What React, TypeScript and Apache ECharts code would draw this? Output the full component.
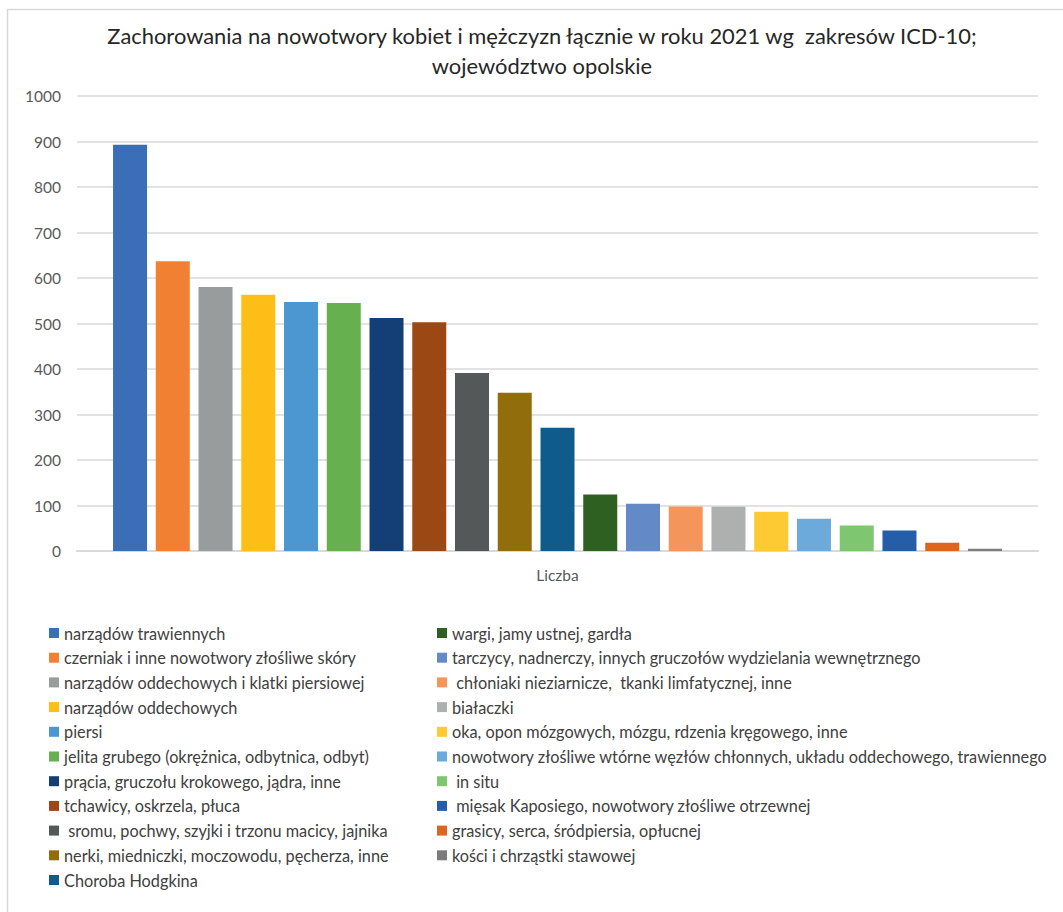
import React, { useEffect, useRef } from "react";
import * as echarts from "echarts";

const titleText =
  "Zachorowania na nowotwory kobiet i mężczyzn łącznie w roku 2021 wg  zakresów ICD-10;\nwojewództwo opolskie";

const categories = ["Liczba"];

const seriesNames = [
  "narządów trawiennych",
  "czerniak i inne nowotwory złośliwe skóry",
  "narządów oddechowych i klatki piersiowej",
  "narządów oddechowych",
  "piersi",
  "jelita grubego (okrężnica, odbytnica, odbyt)",
  "prącia, gruczołu krokowego, jądra, inne",
  "tchawicy, oskrzela, płuca",
  " sromu, pochwy, szyjki i trzonu macicy, jajnika",
  "nerki, miedniczki, moczowodu, pęcherza, inne",
  "Choroba Hodgkina",
  "wargi, jamy ustnej, gardła",
  "tarczycy, nadnerczy, innych gruczołów wydzielania wewnętrznego",
  " chłoniaki nieziarnicze,  tkanki limfatycznej, inne",
  "białaczki",
  "oka, opon mózgowych, mózgu, rdzenia kręgowego, inne",
  "nowotwory złośliwe wtórne węzłów chłonnych, układu oddechowego, trawiennego",
  " in situ",
  " mięsak Kaposiego, nowotwory złośliwe otrzewnej",
  "grasicy, serca, śródpiersia, opłucnej",
  "kości i chrząstki stawowej",
];

const seriesValues = [
  893, 637, 580, 563, 547, 545, 512, 503, 391, 348, 271, 124, 104, 98, 97, 86,
  71, 56, 45, 18, 5,
];

const seriesColors = [
  "#3A6FB8",
  "#F28033",
  "#999C9C",
  "#FCBE17",
  "#4C97D1",
  "#66B04F",
  "#133F76",
  "#9C4814",
  "#545859",
  "#926D0C",
  "#0F5B8C",
  "#2E6121",
  "#6389C6",
  "#F4965A",
  "#AEAFAF",
  "#FECA33",
  "#6BAADA",
  "#7EC66F",
  "#245DA8",
  "#DB6621",
  "#7C7C7C",
];

const yMin = 0;
const yMax = 1000;
const yInterval = 100;

const FONT = "Lato, 'Liberation Sans', sans-serif";

export default function App() {
  const ref = useRef<HTMLDivElement>(null);

  useEffect(() => {
    if (!ref.current) return;
    const chart = echarts.init(ref.current, null, { renderer: "svg" });

    const series = seriesNames.map((name, i) => ({
      name,
      type: "bar" as const,
      data: [seriesValues[i]],
      itemStyle: { color: seriesColors[i] },
      barGap: "25.7%",
      barCategoryGap: "7.5%",
    }));

    const legendCommon = {
      orient: "vertical" as const,
      icon: "rect",
      itemWidth: 10,
      itemHeight: 10,
      itemGap: 8.7,
      padding: 0,
      textStyle: {
        fontFamily: FONT,
        fontSize: 16.3,
        lineHeight: 16,
        color: "#404040",
      },
    };

    chart.setOption({
      animation: false,
      backgroundColor: "#ffffff",
      textStyle: { fontFamily: FONT },
      title: {
        text: titleText,
        left: 542,
        textAlign: "center",
        top: 20,
        padding: 0,
        textStyle: {
          fontFamily: FONT,
          fontSize: 21.9,
          lineHeight: 30,
          fontWeight: "normal",
          color: "#262626",
        },
      },
      graphic: [
        {
          type: "rect",
          shape: { x: 7.5, y: 9.5, width: 1200, height: 1000 },
          style: { fill: "none", stroke: "#D9D9D9", lineWidth: 1.5 },
          silent: true,
          z: -10,
        },
      ],
      grid: {
        left: 77,
        right: 25,
        top: 96,
        height: 455,
        containLabel: false,
      },
      xAxis: {
        type: "category",
        data: categories,
        axisTick: { show: false },
        axisLine: { lineStyle: { color: "#D9D9D9", width: 2 } },
        axisLabel: {
          margin: 16,
          fontSize: 15.5,
          color: "#595959",
          fontFamily: FONT,
        },
      },
      yAxis: {
        type: "value",
        min: yMin,
        max: yMax,
        interval: yInterval,
        axisLine: { show: false },
        axisTick: { show: false },
        splitLine: { lineStyle: { color: "#D9D9D9", width: 1.5 } },
        axisLabel: {
          margin: 16,
          fontSize: 15.5,
          color: "#595959",
          fontFamily: FONT,
          formatter: (v: number) => String(v),
        },
      },
      legend: [
        {
          ...legendCommon,
          left: 49,
          top: 625,
          data: seriesNames.slice(0, 11),
        },
        {
          ...legendCommon,
          left: 437,
          top: 625,
          data: seriesNames.slice(11),
        },
      ],
      series,
    });

    return () => chart.dispose();
  }, []);

  return (
    <div
      ref={ref}
      style={{
        position: "absolute",
        left: 0,
        top: 0,
        width: 1063,
        height: 912,
      }}
    />
  );
}
